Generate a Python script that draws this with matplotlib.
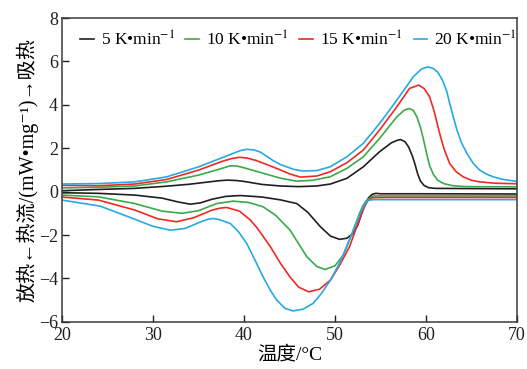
import matplotlib
matplotlib.use("Agg")
import matplotlib.pyplot as plt

plt.rcParams['font.family'] = ['Liberation Serif', 'Noto Sans CJK SC', 'DejaVu Sans']
plt.rcParams['mathtext.fontset'] = 'stix'

COLORS = ['#231f20',  # black  5 K/min
          '#3aaa4a',  # green 10 K/min
          '#ee2a24',  # red   15 K/min
          '#27a9e1']  # blue  20 K/min

labels = ['5 K•min$^{-1}$', '10 K•min$^{-1}$', '15 K•min$^{-1}$', '20 K•min$^{-1}$']

# heating curves (endothermic, upper branch)
t_heat_5 = [20, 24, 28, 31.5, 34, 36, 37.2, 38.2, 39.2, 40, 41, 42, 44, 46, 48, 49.5, 51.3, 53.1,
            54.9, 56.2, 56.8, 57.2, 57.7, 58.1, 58.5, 58.8, 59.1, 59.4, 59.8, 60.3, 61, 65, 70]
heat_5 = [0.04, 0.1, 0.15, 0.25, 0.34, 0.44, 0.5, 0.53, 0.51, 0.47, 0.4, 0.33, 0.26, 0.23, 0.26,
          0.35, 0.61, 1.14, 1.84, 2.25, 2.36, 2.4, 2.3, 2.05, 1.65, 1.25, 0.8, 0.48, 0.28, 0.18,
          0.15, 0.14, 0.13]

t_heat_10 = [20, 24, 28, 31.5, 35, 37, 38.5, 39.2, 40, 41, 42.5, 44, 45.8, 47.5, 49.45, 51.3,
             53.1, 54.9, 56.8, 57.6, 58.1, 58.6, 59.0, 59.4, 59.7, 60.1, 60.4, 60.8, 61.3, 62, 63,
             64.5, 70]
heat_10 = [0.17, 0.2, 0.26, 0.45, 0.76, 1.0, 1.19, 1.18, 1.1, 0.98, 0.8, 0.62, 0.48, 0.52, 0.68,
           1.07, 1.6, 2.45, 3.45, 3.75, 3.83, 3.75, 3.45, 2.95, 2.45, 1.7, 1.2, 0.8, 0.52, 0.36,
           0.27, 0.23, 0.22]

t_heat_15 = [20, 24, 28, 31.5, 35, 37.5, 38.6, 39.5, 40.3, 41.3, 42.5, 44, 45, 46.2, 48, 49.45,
             51.3, 53.1, 54.9, 56.8, 58.2, 59.2, 59.8, 60.4, 60.9, 61.5, 62.0, 62.6, 63.3, 64.1,
             65, 65.9, 67.5, 70]
heat_15 = [0.29, 0.27, 0.35, 0.56, 0.99, 1.38, 1.52, 1.58, 1.55, 1.44, 1.25, 1.0, 0.82, 0.67,
           0.72, 0.91, 1.33, 1.91, 2.84, 3.91, 4.76, 4.91, 4.75, 4.37, 3.7, 2.68, 1.95, 1.3, 0.92,
           0.68, 0.52, 0.45, 0.39, 0.36]

t_heat_20 = [20, 24, 28, 31.5, 35, 38.8, 39.6, 40.3, 41.1, 41.8, 42.5, 43.2, 44, 45.5, 46.5, 48,
             49.45, 51.3, 53.1, 54.9, 56.8, 58.6, 59.5, 60.2, 60.8, 61.3, 61.8, 62.3, 62.6, 63.0,
             63.4, 63.9, 64.5, 65.2, 65.9, 66.7, 67.4, 68.5, 70]
heat_20 = [0.35, 0.37, 0.45, 0.68, 1.14, 1.76, 1.89, 1.95, 1.92, 1.82, 1.63, 1.43, 1.25, 1.02,
           0.95, 0.97, 1.14, 1.6, 2.22, 3.14, 4.22, 5.29, 5.65, 5.75, 5.68, 5.5, 5.15, 4.6, 4.07,
           3.45, 2.84, 2.25, 1.76, 1.3, 0.99, 0.8, 0.68, 0.56, 0.47]

# cooling curves (exothermic, lower branch)
t_cool_5 = [20, 24, 28, 31, 32.8, 34.1, 35.2, 36.5, 38, 39.6, 42, 44, 45.8, 47, 48.4, 49.5, 50.5,
            51.3, 52, 52.5, 52.9, 53.3, 53.7, 54.1, 54.5, 55, 60, 70]
cool_5 = [-0.05, -0.08, -0.16, -0.3, -0.48, -0.58, -0.52, -0.35, -0.22, -0.18, -0.25, -0.38,
          -0.55, -0.95, -1.62, -2.05, -2.2, -2.15, -1.93, -1.55, -1.05, -0.6, -0.28, -0.12,
          -0.08, -0.1, -0.1, -0.11]

t_cool_10 = [20, 24, 28, 31, 33.2, 35, 37, 38.8, 40.5, 42.1, 43.5, 45.05, 46, 46.9, 48, 48.9, 50,
             50.9, 51.8, 52.3, 52.7, 53.1, 53.5, 54.2, 56, 70]
cool_10 = [-0.16, -0.24, -0.55, -0.9, -1.0, -0.88, -0.55, -0.44, -0.5, -0.7, -1.1, -1.77, -2.4,
           -3.0, -3.45, -3.59, -3.42, -2.93, -2.0, -1.45, -1.0, -0.62, -0.39, -0.2, -0.2, -0.2]

t_cool_15 = [20, 24, 28, 30.5, 32.6, 34.5, 36.5, 37.4, 38.1, 39.5, 40.7, 41.4, 42, 42.9, 44,
             45.05, 46, 47.1, 48.3, 49.5, 50.5, 51.6, 52.4, 53.1, 53.6, 54.1, 56, 70]
cool_15 = [-0.25, -0.39, -0.85, -1.25, -1.39, -1.2, -0.85, -0.76, -0.73, -0.9, -1.31, -1.65, -2.0,
           -2.54, -3.3, -3.93, -4.4, -4.62, -4.5, -4.08, -3.4, -2.54, -1.6, -0.8, -0.42, -0.28,
           -0.27, -0.27]

t_cool_20 = [20, 24.2, 27.8, 30, 31.9, 33.5, 35.5, 36.1, 36.6, 37.2, 38.5, 39.4, 40.3, 41.2, 42.1,
             42.9, 43.6, 44.5, 45.4, 46.5, 47.6, 48.5, 49.5, 50.5, 51.3, 52.2, 52.8, 53.3, 53.7,
             54.2, 56, 70]
cool_20 = [-0.39, -0.67, -1.24, -1.6, -1.78, -1.7, -1.35, -1.27, -1.24, -1.28, -1.47, -1.85,
           -2.39, -3.15, -3.93, -4.55, -5.0, -5.38, -5.5, -5.42, -5.15, -4.7, -4.08, -3.3, -2.54,
           -1.6, -0.95, -0.55, -0.4, -0.37, -0.37, -0.37]

heat_t = [t_heat_5, t_heat_10, t_heat_15, t_heat_20]
heat = [heat_5, heat_10, heat_15, heat_20]
cool_t = [t_cool_5, t_cool_10, t_cool_15, t_cool_20]
cool = [cool_5, cool_10, cool_15, cool_20]

fig = plt.figure(figsize=(5.27, 3.69), dpi=100)
ax = fig.add_axes([0.1176, 0.128, 0.8634, 0.823])

for i in range(4):
    ax.plot(cool_t[i], cool[i], color=COLORS[i], lw=1.2, solid_joinstyle='round')
for i in range(4):
    ax.plot(heat_t[i], heat[i], color=COLORS[i], lw=1.2, label=labels[i],
            solid_joinstyle='round')

ax.set_xlim(20, 70)
ax.set_ylim(-6, 8)
ax.set_xticks([20, 30, 40, 50, 60, 70])
ax.set_yticks([-6, -4, -2, 0, 2, 4, 6, 8])
ax.tick_params(direction='in', length=5, width=1, labelsize=13, colors='#231f20', pad=3)
ax.tick_params(axis='x', pad=4)
for s in ax.spines.values():
    s.set_linewidth(1.1)
    s.set_color('#3a3a3a')

ax.set_xlabel('温度/°C', fontsize=14, labelpad=1)
ax.set_ylabel('放热←热流/(mW•mg⁻¹)→吸热', fontsize=14.5, labelpad=0)

ax.legend(loc='upper center', ncol=4, frameon=False, fontsize=12.5, handlelength=0.8,
          handletextpad=0.4, columnspacing=0.6, borderaxespad=0.3, bbox_to_anchor=(0.52, 1.0))

fig.savefig('out.png', dpi=100)
